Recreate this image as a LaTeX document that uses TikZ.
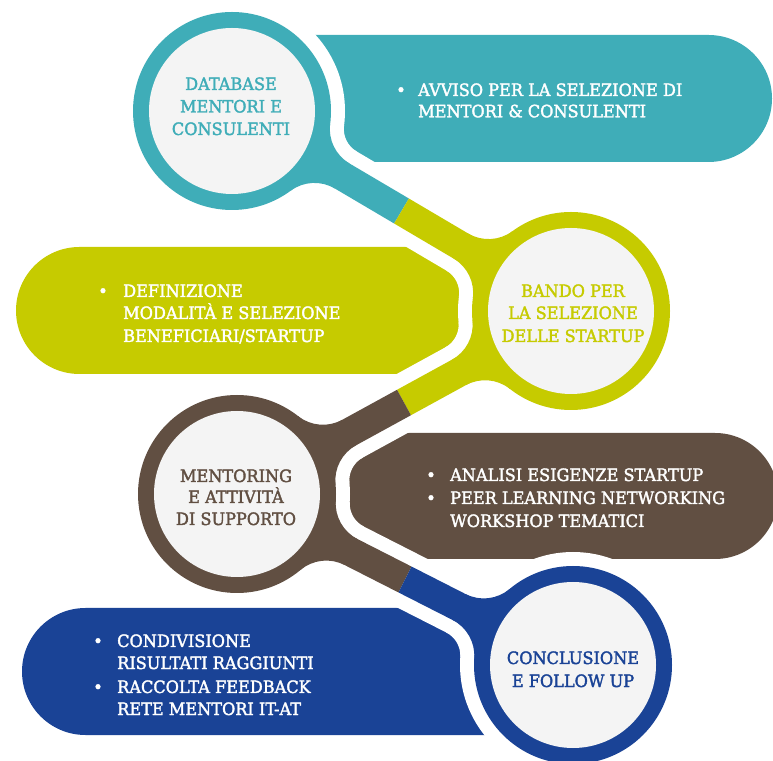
\documentclass[tikz,border=0pt]{standalone}
\usepackage{fontspec}
\setmainfont{DejaVu Serif}[FakeStretch=0.95,RawFeature={embolden=2.0}]
\definecolor{cteal}{HTML}{3FADB8}
\definecolor{cgreen}{HTML}{C6CB00}
\definecolor{cbrown}{HTML}{614F42}
\definecolor{cblue}{HTML}{1A4396}
\definecolor{cinner}{HTML}{F4F4F4}
\newcommand\pilfont{\fontsize{17}{20}\selectfont}
\newcommand\mgfillet[3]{%
  \begin{scope}[shift={#1},rotate=#2]
    \fill (0,0) -- ([shift={(203.08:#3)}]127.87,54.5) arc[start angle=203.08,end angle=270,radius=#3] -- (127.87,0) -- cycle;
    \fill (0,0) -- ([shift={(156.92:#3)}]127.87,-54.5) arc[start angle=156.92,end angle=90,radius=#3] -- (127.87,0) -- cycle;
  \end{scope}}
\begin{document}
\begin{tikzpicture}[x=1pt,y=1pt,
  pilltext/.style={text=white,font=\pilfont,anchor=base west,inner sep=0pt},
  bul/.style={text=white,font=\pilfont,anchor=base,inner sep=0pt},
  circtext/.style={font=\pilfont,anchor=base,inner sep=0pt},
  innerdisc/.style={circle,fill=cinner,minimum size=166pt,inner sep=0pt}]
\useasboundingbox (0,0) rectangle (773,760);
\clip (0,0) rectangle (773,760);
\coordinate (C1) at (232,649);
\coordinate (C2) at (571,449);
\coordinate (C3) at (237,266);
\coordinate (C4) at (573,95);
\coordinate (M12) at (401.5,549);
\coordinate (M23) at (404,357.5);
\coordinate (M34) at (405,180.5);
% pills
\fill[cteal,rounded corners=63.5pt] (170,598) rectangle (772,725);
\fill[cgreen,rounded corners=63.5pt] (16,386) rectangle (634,513);
\fill[cbrown,rounded corners=63pt] (174,201) rectangle (778,327);
\fill[cblue,rounded corners=63.5pt] (22,25) rectangle (636.5,152);
% white outline layer
\draw[white,line width=57pt] (C1) -- (C2);
\draw[white,line width=57pt] (C2) -- (C3);
\draw[white,line width=57pt] (C3) -- (C4);
\begin{scope}[fill=white]
\mgfillet{(C1)}{-30.54}{26}
\mgfillet{(C2)}{149.46}{26}
\mgfillet{(C2)}{-151.28}{26}
\mgfillet{(C3)}{28.72}{26}
\mgfillet{(C3)}{-26.97}{26}
\mgfillet{(C4)}{153.03}{26}
\end{scope}
\fill[white] (C1) circle[radius=113];
\fill[white] (C2) circle[radius=113];
\fill[white] (C3) circle[radius=113];
\fill[white] (C4) circle[radius=113];
% coloured layer
\draw[cteal,line width=29pt] (C1) -- (M12);
\draw[cgreen,line width=29pt] (M12) -- (C2);
\draw[cgreen,line width=29pt] (C2) -- (M23);
\draw[cbrown,line width=29pt] (M23) -- (C3);
\draw[cbrown,line width=29pt] (C3) -- (M34);
\draw[cblue,line width=29pt] (M34) -- (C4);
\begin{scope}[fill=cteal]\mgfillet{(C1)}{-30.54}{40}\end{scope}
\begin{scope}[fill=cgreen]\mgfillet{(C2)}{149.46}{40}\mgfillet{(C2)}{-151.28}{40}\end{scope}
\begin{scope}[fill=cbrown]\mgfillet{(C3)}{28.72}{40}\mgfillet{(C3)}{-26.97}{40}\end{scope}
\begin{scope}[fill=cblue]\mgfillet{(C4)}{153.03}{40}\end{scope}
\fill[cteal] (C1) circle[radius=99];
\fill[cgreen] (C2) circle[radius=99];
\fill[cbrown] (C3) circle[radius=99];
\fill[cblue] (C4) circle[radius=99];
\node[innerdisc] (d1) at (C1) {};
\node[innerdisc] (d2) at (C2) {};
\node[innerdisc] (d3) at (C3) {};
\node[innerdisc] (d4) at (C4) {};
% circle texts
\node[circtext,text=cteal] (t1a) at (231,670) {DATABASE};
\node[circtext,text=cteal] (t1b) at (231,647.5) {MENTORI E};
\node[circtext,text=cteal] (t1c) at (231,625) {CONSULENTI};
\node[circtext,text=cgreen] (t2a) at (573,463) {BANDO PER};
\node[circtext,text=cgreen] (t2b) at (573,441) {LA SELEZIONE};
\node[circtext,text=cgreen] (t2c) at (573,418) {DELLE STARTUP};
\node[circtext,text=cbrown] (t3a) at (236,278) {MENTORING};
\node[circtext,text=cbrown] (t3b) at (236,257) {E ATTIVITÀ};
\node[circtext,text=cbrown] (t3c) at (236,235) {DI SUPPORTO};
\node[circtext,text=cblue] (t4a) at (573,96) {CONCLUSIONE};
\node[circtext,text=cblue] (t4b) at (573,73) {E FOLLOW UP};
% pill texts
\node[bul] (b1a) at (401,664) {•};
\node[pilltext] (p1a) at (418,664) {AVVISO PER LA SELEZIONE DI};
\node[pilltext] (p1b) at (418,642.7) {MENTORI \& CONSULENTI};
\node[bul] (b2a) at (103,463) {•};
\node[pilltext] (p2a) at (123,463) {DEFINIZIONE};
\node[pilltext] (p2b) at (123,441) {MODALITÀ E SELEZIONE};
\node[pilltext] (p2c) at (123,418) {BENEFICIARI/STARTUP};
\node[bul] (b3a) at (431,279) {•};
\node[bul] (b3b) at (431,256) {•};
\node[pilltext] (p3a) at (450,279) {ANALISI ESIGENZE STARTUP};
\node[pilltext] (p3b) at (450,256) {PEER LEARNING NETWORKING};
\node[pilltext] (p3c) at (450,233) {WORKSHOP TEMATICI};
\node[bul] (b4a) at (98,113) {•};
\node[bul] (b4b) at (98,67) {•};
\node[pilltext] (p4a) at (117,113) {CONDIVISIONE};
\node[pilltext] (p4b) at (117,91) {RISULTATI RAGGIUNTI};
\node[pilltext] (p4c) at (117,67) {RACCOLTA FEEDBACK};
\node[pilltext] (p4d) at (117,45) {RETE MENTORI IT-AT};
\end{tikzpicture}
\end{document}
